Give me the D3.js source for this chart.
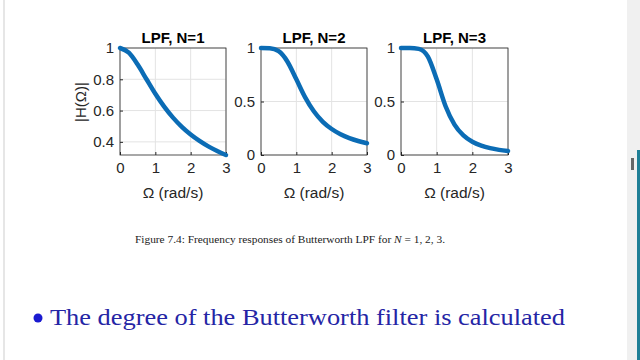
<!DOCTYPE html>
<html>
<head>
<meta charset="utf-8">
<script src="https://cdn.jsdelivr.net/npm/d3@7"></script>
<style>
body { margin: 0; background: #fff; }
svg { display: block; }
.tick text { font-family: "Liberation Sans", Arial, sans-serif; }
</style>
</head>
<body>
<div id="plot"></div>
<script>

// frequency samples (rad/s)
var omega = [0, 0.25, 0.5, 0.75, 1, 1.25, 1.5, 1.75, 2, 2.25, 2.5, 2.75, 3];

// magnitude
var magN1 = [1, 0.970, 0.894, 0.800, 0.707, 0.625, 0.555, 0.496, 0.447, 0.406, 0.371, 0.342, 0.316];
var magN2 = [1, 0.998, 0.970, 0.872, 0.707, 0.539, 0.406, 0.310, 0.243, 0.194, 0.158, 0.131, 0.110];
var magN3 = [1, 1.000, 0.992, 0.921, 0.707, 0.456, 0.284, 0.183, 0.124, 0.088, 0.064, 0.048, 0.037];

var titles = ["LPF, N=1", "LPF, N=2", "LPF, N=3"];
var yTicks1 = [0.4, 0.6, 0.8, 1];
var yTicks23 = [0, 0.5, 1];
var xTicks = [0, 1, 2, 3];

var W = 640, H = 360;
var svg = d3.select('#plot').append('svg')
  .attr('width', W).attr('height', H);

svg.append('rect').attr('width', W).attr('height', H).attr('fill', '#fff');

function shortFmt(d){ return d === 0 ? "0" : d === 1 ? "1" : d3.format(".1f")(d); }

// panel boxes (left, right) in pixels, shared top/bottom
var panels = [
  {left: 120, right: 226, mag: magN1, dom: [0.316, 1], ticks: yTicks1, fmt: shortFmt},
  {left: 261, right: 367, mag: magN2, dom: [0, 1], ticks: yTicks23, fmt: shortFmt},
  {left: 401, right: 508, mag: magN3, dom: [0, 1], ticks: yTicks23, fmt: shortFmt}
];
var plotTop = 48, plotBottom = 155;

panels.forEach(function(p, i){
  var x = d3.scaleLinear().domain([0, 3]).range([p.left, p.right]);
  var y = d3.scaleLinear().domain(p.dom).range([plotBottom, plotTop]);
  var g = svg.append('g');

  // grid
  g.selectAll('.gx').data(xTicks).enter().append('line')
    .attr('x1', function(d){ return x(d); }).attr('x2', function(d){ return x(d); })
    .attr('y1', plotTop).attr('y2', plotBottom)
    .attr('stroke', '#e3e3e3').attr('stroke-width', 1);
  g.selectAll('.gy').data(p.ticks).enter().append('line')
    .attr('y1', function(d){ return y(d); }).attr('y2', function(d){ return y(d); })
    .attr('x1', p.left).attr('x2', p.right)
    .attr('stroke', '#e3e3e3').attr('stroke-width', 1);

  // axes
  var xAxis = d3.axisBottom(x).tickValues(xTicks).tickSize(-3).tickPadding(7).tickFormat(d3.format("d"));
  var yAxis = d3.axisLeft(y).tickValues(p.ticks).tickSize(-3).tickPadding(6).tickFormat(p.fmt);

  var gx = g.append('g').attr('transform', 'translate(0,' + plotBottom + ')').call(xAxis);
  var gy = g.append('g').attr('transform', 'translate(' + p.left + ',0)').call(yAxis);
  [gx, gy].forEach(function(a){
    a.select('.domain').remove();
    a.selectAll('.tick line').attr('stroke', '#262626');
    a.selectAll('.tick text').attr('fill', '#262626').style('font-size', '15px');
  });

  // box
  g.append('rect')
    .attr('x', p.left).attr('y', plotTop)
    .attr('width', p.right - p.left).attr('height', plotBottom - plotTop)
    .attr('fill', 'none').attr('stroke', '#262626').attr('stroke-width', 0.8);

  // curve
  var pts = omega.map(function(w, k){ return [w, p.mag[k]]; });
  g.append('path')
    .datum(pts)
    .attr('d', d3.line().x(function(d){ return x(d[0]); }).y(function(d){ return y(d[1]); }).curve(d3.curveMonotoneX))
    .attr('fill', 'none')
    .attr('stroke', '#0b6cb5')
    .attr('stroke-width', 4.5)
    .attr('stroke-linecap', 'round');

  // title
  g.append('text')
    .attr('x', (p.left + p.right) / 2).attr('y', 43)
    .attr('text-anchor', 'middle')
    .style('font-family', '"Liberation Sans", Arial, sans-serif')
    .style('font-weight', 'bold').style('font-size', '15px')
    .attr('fill', '#000')
    .text(titles[i]);

  // x label
  g.append('text')
    .attr('x', (p.left + p.right) / 2).attr('y', 198)
    .attr('text-anchor', 'middle')
    .style('font-family', '"Liberation Sans", Arial, sans-serif')
    .style('font-size', '15.5px')
    .attr('fill', '#262626')
    .text('\u03A9 (rad/s)');
});

// y label on first panel
svg.append('text')
  .attr('transform', 'translate(86,102) rotate(-90)')
  .attr('text-anchor', 'middle')
  .style('font-family', '"Liberation Sans", Arial, sans-serif')
  .style('font-size', '15px')
  .attr('fill', '#262626')
  .text('|H(\u03A9)|');

// caption
var cap = svg.append('text')
  .attr('x', 135).attr('y', 243)
  .attr('textLength', 310).attr('lengthAdjust', 'spacingAndGlyphs')
  .style('font-family', '"Liberation Serif", "DejaVu Serif", serif')
  .style('font-size', '11px')
  .attr('fill', '#222');
cap.append('tspan').text('Figure 7.4: Frequency responses of Butterworth LPF for ');
cap.append('tspan').style('font-style', 'italic').text('N');
cap.append('tspan').text(' = 1, 2, 3.');

// bullet line
svg.append('circle').attr('cx', 38).attr('cy', 318).attr('r', 4.5).attr('fill', '#1a1ad0');
svg.append('text')
  .attr('x', 50).attr('y', 325)
  .attr('textLength', 515).attr('lengthAdjust', 'spacingAndGlyphs')
  .style('font-family', '"Liberation Serif", "DejaVu Serif", serif')
  .style('font-size', '23px')
  .attr('fill', '#2525a5')
  .text('The degree of the Butterworth filter is calculated');

// window edges
svg.append('rect').attr('x', 3).attr('y', 0).attr('width', 2).attr('height', H).attr('fill', '#e6e6e6');
svg.append('rect').attr('x', 627).attr('y', 0).attr('width', 13).attr('height', H).attr('fill', '#f0f0f0');
svg.append('rect').attr('x', 631).attr('y', 158).attr('width', 3).attr('height', 12).attr('fill', '#666');
svg.append('rect').attr('x', 637).attr('y', 150).attr('width', 3).attr('height', 210).attr('fill', '#1f7f96');
</script>
</body>
</html>
